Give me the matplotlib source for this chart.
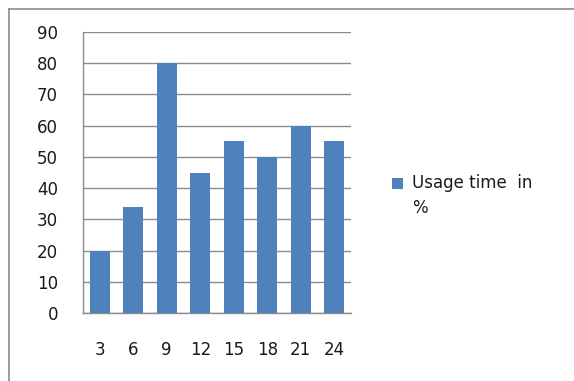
import matplotlib
matplotlib.use("Agg")
import matplotlib.pyplot as plt
from matplotlib.patches import Rectangle
from matplotlib.lines import Line2D

hours = ["3", "6", "9", "12", "15", "18", "21", "24"]
usage = [20, 34, 80, 45, 55, 50, 60, 55]
y_ticks = [0, 10, 20, 30, 40, 50, 60, 70, 80, 90]
series_name = "Usage time  in\n%"

BAR = "#4F81BD"
GRID = "#8c8c8c"
TXT = "#1a1a1a"
FS = 12

W, H = 574, 381
fig = plt.figure(figsize=(W / 100, H / 100), dpi=100)
fig.patch.set_facecolor("white")

# outer chart frame (left and top edges visible)
fig.add_artist(Line2D([8.5 / W, 8.5 / W], [0, 1 - 8.5 / H], transform=fig.transFigure,
                      color=GRID, lw=1.2))
fig.add_artist(Line2D([8.5 / W, 1], [1 - 8.5 / H, 1 - 8.5 / H], transform=fig.transFigure,
                      color=GRID, lw=1.2))

left, right, top, bottom = 83, 351, 32, 313
ax = fig.add_axes([left / W, 1 - bottom / H, (right - left) / W, (bottom - top) / H])

x = range(len(hours))
ax.bar(x, usage, width=0.6, color=BAR, zorder=3)

ax.set_ylim(0, 90)
ax.set_xlim(-0.5, len(hours) - 0.5)
ax.set_yticks(y_ticks)
ax.set_xticks(list(x))
ax.set_xticklabels(hours)
ax.grid(axis="y", color=GRID, lw=1.0, zorder=0)
for side in ["top", "right"]:
    ax.spines[side].set_visible(False)
for side in ["left", "bottom"]:
    ax.spines[side].set_color(GRID)
    ax.spines[side].set_linewidth(1.0)
ax.tick_params(axis="both", length=0, labelsize=FS, colors=TXT)
ax.tick_params(axis="y", pad=18)
ax.tick_params(axis="x", pad=20)

# legend: swatch aligned with the first text line
fig.add_artist(Rectangle((392 / W, 1 - 189 / H), 11 / W, 11 / H, transform=fig.transFigure,
                         facecolor=BAR, edgecolor="none"))
fig.text(412 / W, 1 - 174 / H, series_name, fontsize=FS, color=TXT,
         ha="left", va="top", linespacing=1.5)

fig.savefig("out.png", dpi=100)
